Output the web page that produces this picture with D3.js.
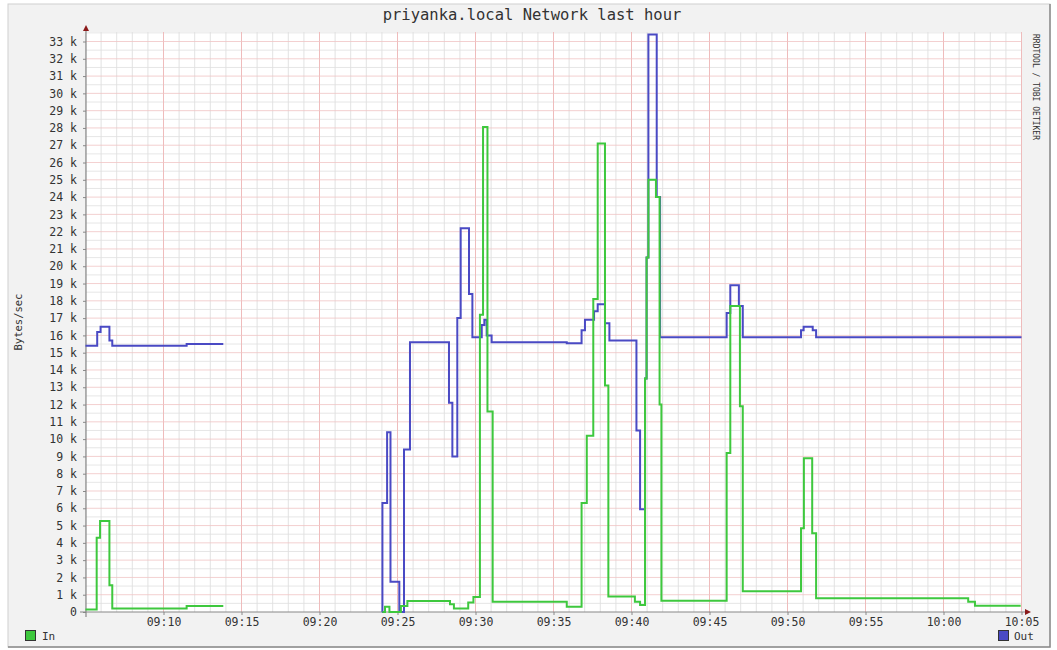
<!doctype html>
<html>
<head>
<script src="https://d3js.org/d3.v7.min.js"></script>
<style>
  body { margin: 0; background: #fff; }
  text { font-family: "DejaVu Sans Mono", monospace; fill: #333; }
</style>
</head>
<body>
<svg width="1057" height="650" id="chart"></svg>
<script>
// In (green) - time of each step and value in k bytes/sec, null = no data
var inTimes = ["09:05:00","09:05:43","09:05:56","09:06:32","09:06:43","09:11:29","09:13:50","09:13:51",
  "09:24:02","09:24:12","09:24:29","09:25:13","09:25:38","09:28:22","09:28:37","09:29:32","09:29:52",
  "09:30:17","09:30:29","09:30:46","09:31:06","09:35:51","09:36:48","09:37:08","09:37:33","09:37:50",
  "09:38:18","09:38:31","09:40:13","09:40:33","09:40:52","09:40:58","09:41:05","09:41:34","09:41:48",
  "09:41:55","09:46:06","09:46:20","09:46:57","09:47:08","09:50:52","09:51:03","09:51:35","09:51:50",
  "10:01:35","10:02:01","10:04:57"];
var inValues = [0.15,4.3,5.26,1.55,0.2,0.35,0.35,null,
  0,0.3,0,0.35,0.63,0.45,0.2,0.55,0.87,
  17.2,28.05,11.6,0.6,0.3,6.3,10.2,18.1,27.1,
  13.1,0.9,0.6,0.4,13.5,20.5,25,24,12,
  0.65,9.2,17.7,11.9,1.2,4.85,8.9,4.55,0.8,
  0.6,0.36,0.36];

// Out (blue)
var outTimes = ["09:05:00","09:05:45","09:05:58","09:06:32","09:06:43","09:11:29","09:13:50","09:13:51",
  "09:24:00","09:24:02","09:24:20","09:24:33","09:25:07","09:25:25","09:25:48","09:28:18","09:28:31",
  "09:28:50","09:29:03","09:29:35","09:29:48","09:30:24","09:30:34","09:30:43","09:31:02","09:35:51",
  "09:36:48","09:37:01","09:37:36","09:37:50","09:38:18","09:38:35","09:40:19","09:40:33","09:40:52",
  "09:40:58","09:41:05","09:41:37","09:41:50","09:46:06","09:46:20","09:46:53","09:47:08","09:50:52",
  "09:51:02","09:51:37","09:51:50","10:05:00"];
var outValues = [15.4,16.2,16.5,15.7,15.4,15.5,15.5,null,
  0,6.3,10.4,1.75,0,9.4,15.6,12.1,9.0,
  17.0,22.2,18.4,15.9,16.6,16.9,16.0,15.6,15.55,
  16.3,16.9,17.4,17.8,16.7,15.7,10.5,5.95,13.5,
  20.5,33.4,24,15.9,17.3,18.9,17.7,15.9,16.3,
  16.5,16.3,15.9,15.9];

var xTicks = ["09:10","09:15","09:20","09:25","09:30","09:35","09:40","09:45","09:50","09:55","10:00","10:05"];
var yMax = 33.55;

var parseT = d3.timeParse("%H:%M:%S");
var svg = d3.select("#chart");

var pLeft = 86, pRight = 1021.5, pTop = 32, pBottom = 612;

var x = d3.scaleTime().domain([parseT("09:05:00"), parseT("10:05:00")]).range([pLeft - 0.5, pRight]);
var y = d3.scaleLinear().domain([0, yMax]).range([pBottom, pTop]);

// frame
svg.append("rect").attr("x", 8).attr("y", 4).attr("width", 1042).attr("height", 643)
  .attr("fill", "#f2f2f2").attr("stroke", "#cfcfcf");
svg.append("path").attr("d", "M8,647H1050V4").attr("fill", "none").attr("stroke", "#8a8a8a").attr("stroke-width", 1.5);

// plot background
svg.append("rect").attr("x", pLeft).attr("y", pTop).attr("width", pRight - pLeft).attr("height", pBottom - pTop).attr("fill", "#fff");

// minor grid
var g = svg.append("g");
var minutes = d3.timeMinute.range(parseT("09:05:00"), parseT("10:05:30"));
g.selectAll(".vmin").data(minutes).enter().append("line")
  .attr("x1", d => x(d)).attr("x2", d => x(d)).attr("y1", pTop).attr("y2", pBottom)
  .attr("stroke", "#dadada").attr("stroke-width", 0.8);
g.selectAll(".hmin").data(d3.range(0.5, yMax, 1)).enter().append("line")
  .attr("x1", pLeft).attr("x2", pRight).attr("y1", d => y(d)).attr("y2", d => y(d))
  .attr("stroke", "#e0e0e0").attr("stroke-width", 0.8);
// major grid
g.selectAll(".vmaj").data(xTicks).enter().append("line")
  .attr("x1", d => x(parseT(d + ":00"))).attr("x2", d => x(parseT(d + ":00")))
  .attr("y1", pTop).attr("y2", pBottom)
  .attr("stroke", "#f0b8b8").attr("stroke-width", 0.9);
g.selectAll(".hmaj").data(d3.range(1, 34)).enter().append("line")
  .attr("x1", pLeft).attr("x2", pRight).attr("y1", d => y(d)).attr("y2", d => y(d))
  .attr("stroke", "#f0c4c4").attr("stroke-width", 0.8);

// axes
var xAxis = svg.append("g").attr("transform", "translate(0," + pBottom + ")")
  .call(d3.axisBottom(x).tickValues(xTicks.map(d => parseT(d + ":00"))).tickFormat(d3.timeFormat("%H:%M")).tickSize(3).tickPadding(3));
xAxis.select(".domain").remove();
xAxis.selectAll("text").style("font-size", "11.5px").attr("fill", "#333");
xAxis.selectAll("line").attr("stroke", "#888");

var yAxis = svg.append("g").attr("transform", "translate(" + pLeft + ",0)")
  .call(d3.axisLeft(y).tickValues(d3.range(0, 34)).tickFormat(d => d === 0 ? "0" : d + " k").tickSize(3).tickPadding(6));
yAxis.select(".domain").remove();
yAxis.selectAll("text").style("font-size", "11.5px").attr("fill", "#333");
yAxis.selectAll("line").attr("stroke", "#888");

svg.append("line").attr("x1", 80).attr("x2", 1026).attr("y1", pBottom).attr("y2", pBottom).attr("stroke", "#888").attr("stroke-width", 1.2);
svg.append("line").attr("x1", pLeft).attr("x2", pLeft).attr("y1", 30).attr("y2", pBottom + 5).attr("stroke", "#888").attr("stroke-width", 1.2);
svg.append("path").attr("d", "M1025," + (pBottom - 3) + "L1031," + pBottom + "L1025," + (pBottom + 3) + "Z").attr("fill", "#8b1a1a");
svg.append("path").attr("d", "M" + (pLeft - 3) + ",31L" + pLeft + ",25L" + (pLeft + 3) + ",31Z").attr("fill", "#8b1a1a");

// series
function series(times, values) {
  return times.map((t, i) => ({ t: parseT(t), v: values[i] }));
}
var line = d3.line().defined(d => d.v !== null).x(d => x(d.t)).y(d => y(d.v)).curve(d3.curveStepAfter);

svg.append("path").datum(series(outTimes, outValues)).attr("d", line)
  .attr("fill", "none").attr("stroke", "#4a4ac4").attr("stroke-width", 2);
svg.append("path").datum(series(inTimes, inValues)).attr("d", line)
  .attr("fill", "none").attr("stroke", "#3ec83e").attr("stroke-width", 2);

// title
svg.append("text").attr("x", 532).attr("y", 20).attr("text-anchor", "middle")
  .style("font-size", "15.5px").attr("fill", "#222").text("priyanka.local Network last hour");

// y label
svg.append("text").attr("transform", "translate(22,322)rotate(-90)").attr("text-anchor", "middle")
  .style("font-size", "10.5px").attr("fill", "#222").text("Bytes/sec");

// watermark
svg.append("text").attr("transform", "translate(1033,34)rotate(90)")
  .style("font-size", "8px").attr("fill", "#c4c4c4").text("RRDTOOL / TOBI OETIKER");

// legend
svg.append("rect").attr("x", 25.5).attr("y", 630.5).attr("width", 10).attr("height", 10)
  .attr("fill", "#3ec83e").attr("stroke", "#333");
svg.append("text").attr("x", 42).attr("y", 640).style("font-size", "11px").attr("fill", "#222").text("In");
svg.append("rect").attr("x", 998.5).attr("y", 630.5).attr("width", 10).attr("height", 10)
  .attr("fill", "#4a4ac4").attr("stroke", "#333");
svg.append("text").attr("x", 1014).attr("y", 640).style("font-size", "11px").attr("fill", "#222").text("Out");
</script>
</body>
</html>
